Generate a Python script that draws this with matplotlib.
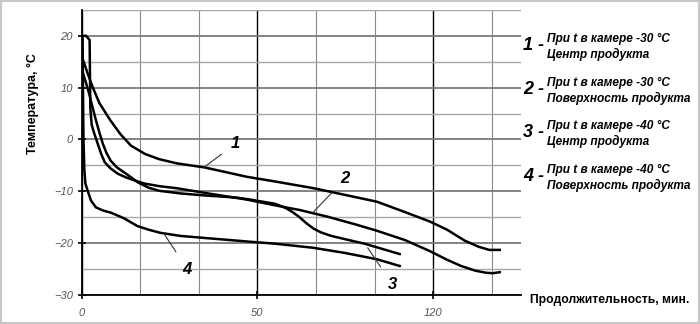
import matplotlib
matplotlib.use("Agg")
import matplotlib.pyplot as plt
import numpy as np
from matplotlib.patches import Rectangle

plt.rcParams["font.family"] = ["Liberation Sans", "DejaVu Sans"]

# curve 1: -30 C chamber, product centre
time1 = [0, 1.5, 3, 5, 8, 11, 14, 18, 22, 27, 35, 47, 55, 66, 75, 84, 92, 99, 104, 109, 113, 116, 119]
temp1 = [16, 13, 10.2, 7.0, 3.8, 1.0, -1.2, -2.8, -3.8, -4.6, -5.4, -7.2, -8.1, -9.4, -10.7, -12.0,
         -14.0, -15.8, -17.4, -19.5, -20.7, -21.3, -21.3]

# curve 2: -30 C chamber, product surface
time2 = [0, 1.2, 1.8, 2.2, 2.4, 2.8, 3.5, 4.5, 5.5, 6.5, 8.2, 10.2, 12.5, 15, 17.8, 22, 27, 35, 47, 55,
         62, 70, 78, 84, 92, 99, 104, 108, 112, 115, 117, 119]
temp2 = [20, 20, 19.5, 19.2, 6.0, 2.8, 1.2, -0.8, -2.8, -4.4, -5.6, -6.6, -7.3, -7.9, -8.5, -9.0, -9.4,
         -10.3, -11.6, -12.7, -13.6, -14.9, -16.4, -17.6, -19.4, -21.5, -23.2, -24.4, -25.3, -25.7,
         -25.8, -25.6]

# curve 3: -40 C chamber, product centre
time3 = [0, 1, 2, 3, 4, 5, 6, 7, 8.2, 10, 13, 16, 19, 22, 28, 35, 44, 48, 55, 58, 60, 62, 64, 66, 68,
         71, 76, 80.5, 85, 90.5]
temp3 = [13.5, 11.3, 9.0, 6.3, 3.7, 1.3, -0.9, -2.6, -4.1, -5.4, -6.8, -8.3, -9.3, -9.9, -10.4, -10.8,
         -11.2, -11.6, -12.4, -13.2, -14.0, -15.0, -16.2, -17.2, -17.9, -18.6, -19.4, -20.1, -21.0, -22.1]

# curve 4: -40 C chamber, product surface
time4 = [0, 0.2, 0.3, 0.45, 0.7, 1.0, 1.7, 2.6, 4, 6, 8.2, 12, 15.8, 19, 22.3, 28, 35, 47.5, 55, 66,
         75, 84, 90.5]
temp4 = [20, 19.8, 10, 0, -6, -8.5, -10, -11.8, -13.1, -13.7, -14.1, -15.2, -16.7, -17.4, -18.0, -18.6,
         -19.0, -19.7, -20.1, -20.9, -21.9, -23.1, -24.4]

x_ticks = [0, 50, 100]
x_tick_labels = ["0", "50", "120"]
y_ticks = [-30, -20, -10, 0, 10, 20]

curve_labels = ["1", "2", "3", "4"]
label_text_pos = [(43.8, -0.8), (74.9, -7.6), (88.4, -27.9), (30.0, -25.0)]
label_tip_pos = [(34.7, -5.4), (65.8, -14.1), (81.4, -20.9), (23.4, -18.2)]

legend_lines = [
    ("При t в камере -30 °С", "Центр продукта"),
    ("При t в камере -30 °С", "Поверхность продукта"),
    ("При t в камере -40 °С", "Центр продукта"),
    ("При t в камере -40 °С", "Поверхность продукта"),
]

fig = plt.figure(figsize=(7.0, 3.24), dpi=100)
ax = fig.add_axes([0.117, 0.0895, 0.627, 0.88])

for t, v in [(time1, temp1), (time2, temp2), (time3, temp3), (time4, temp4)]:
    ax.plot(t, v, color="black", linewidth=1.8, solid_joinstyle="round", zorder=3)

ax.set_xlim(0, 125)
ax.set_ylim(-30, 25)
ax.set_xticks(x_ticks)
ax.set_xticklabels(x_tick_labels)
ax.set_xticks(np.arange(0, 120, 50 / 3), minor=True)
ax.set_yticks(y_ticks)
ax.set_yticks(np.arange(-25, 30, 10), minor=True)

ax.grid(which="major", axis="x", color="black", linewidth=1.0)
ax.grid(which="minor", axis="x", color="#8a8a8a", linewidth=0.8)
ax.grid(which="major", axis="y", color="#7a7a7a", linewidth=1.3)
ax.grid(which="minor", axis="y", color="#a8a8a8", linewidth=1.0)
ax.set_axisbelow(True)

for side in ["top", "right"]:
    ax.spines[side].set_visible(False)
for side in ["left", "bottom"]:
    ax.spines[side].set_linewidth(1.3)

ax.tick_params(which="major", direction="inout", length=6, width=1.2, colors="black",
               labelcolor="#555555", labelsize=8)
ax.tick_params(which="minor", length=0)
for lbl in ax.get_xticklabels() + ax.get_yticklabels():
    lbl.set_fontstyle("italic")
ax.tick_params(axis="x", pad=6)

for name, tip, pos in zip(curve_labels, label_tip_pos, label_text_pos):
    ax.annotate(name, xy=tip, xytext=pos, fontsize=12, fontweight="bold", fontstyle="italic",
                ha="center", va="center",
                arrowprops=dict(arrowstyle="-", color="#333333", linewidth=0.8, shrinkA=6, shrinkB=0))

fig.text(0.047, 0.68, "Температура, °С", rotation=90, ha="center", va="center",
         fontsize=9, fontweight="bold")
fig.text(0.757, 0.075, "Продолжительность, мин.", ha="left", va="center",
         fontsize=8.7, fontweight="bold")

for i, (first, second) in enumerate(legend_lines):
    y0 = 1 - (43 + 43.5 * i) / 324
    fig.text(0.777, y0 - 0.008, f"{i + 1} -", fontsize=13, fontweight="bold", fontstyle="italic",
             ha="right", va="center")
    fig.text(0.782, y0 + 0.012, first, fontsize=8.6, fontweight="bold", fontstyle="italic",
             ha="left", va="center")
    fig.text(0.782, y0 - 0.036, second, fontsize=8.6, fontweight="bold", fontstyle="italic",
             ha="left", va="center")

fig.patches.append(Rectangle((0, 0), 1, 1, transform=fig.transFigure, fill=False,
                             edgecolor="#c8c8c8", linewidth=3))

fig.savefig("out.png", dpi=100)
